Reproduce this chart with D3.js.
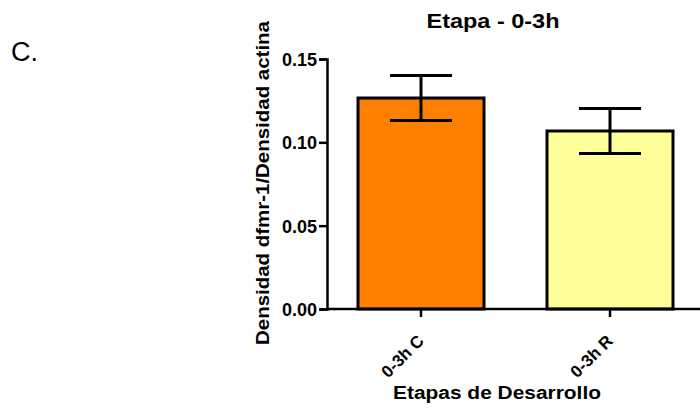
<!DOCTYPE html>
<html>
<head>
<meta charset="utf-8">
<script src="https://cdn.jsdelivr.net/npm/d3@7"></script>
<style>
  body { margin: 0; background: #fff; }
  text { font-family: "Liberation Sans", Arial, sans-serif; }
</style>
</head>
<body>
<div id="chart"></div>
<script>
// Data
var categories = ["0-3h C", "0-3h R"];
var means = [0.1266, 0.1068];
var sems = [0.0135, 0.0135];
var colors = ["#FF8000", "#FFFF99"];
var yTicks = [0.00, 0.05, 0.10, 0.15];

var width = 700, height = 408;
var margin = {top: 59, right: 0, bottom: 99, left: 327};

var svg = d3.select("#chart").append("svg")
  .attr("width", width)
  .attr("height", height);

var data = categories.map(function(c, i) {
  return {name: c, mean: means[i], sem: sems[i], color: colors[i]};
});

var x = d3.scaleBand()
  .domain(categories)
  .range([margin.left, 704])
  .paddingInner(1 / 3)
  .paddingOuter(0.164);

var y = d3.scaleLinear()
  .domain([0, 0.15])
  .range([height - margin.bottom, margin.top]);

// Bars
svg.selectAll(".bar")
  .data(data)
  .enter().append("rect")
  .attr("class", "bar")
  .attr("x", function(d) { return x(d.name); })
  .attr("y", function(d) { return y(d.mean); })
  .attr("width", x.bandwidth())
  .attr("height", function(d) { return y(0) - y(d.mean); })
  .style("fill", function(d) { return d.color; })
  .style("stroke", "#000")
  .style("stroke-width", 3);

// Error bars
var err = svg.selectAll(".err")
  .data(data)
  .enter().append("g")
  .attr("class", "err")
  .style("stroke", "#000")
  .style("stroke-width", 3);

err.append("line")
  .attr("x1", function(d) { return x(d.name) + x.bandwidth() / 2; })
  .attr("x2", function(d) { return x(d.name) + x.bandwidth() / 2; })
  .attr("y1", function(d) { return y(d.mean + d.sem); })
  .attr("y2", function(d) { return y(d.mean - d.sem); });

[1, -1].forEach(function(s) {
  err.append("line")
    .attr("x1", function(d) { return x(d.name) + x.bandwidth() / 2 - 31; })
    .attr("x2", function(d) { return x(d.name) + x.bandwidth() / 2 + 31; })
    .attr("y1", function(d) { return y(d.mean + s * d.sem); })
    .attr("y2", function(d) { return y(d.mean + s * d.sem); });
});

// Y axis
var yAxis = svg.append("g")
  .attr("transform", "translate(" + margin.left + ",0)")
  .call(d3.axisLeft(y).tickValues(yTicks).tickFormat(d3.format(".2f")).tickSizeOuter(0).tickSize(8));

// X axis
var xAxis = svg.append("g")
  .attr("transform", "translate(0," + y(0) + ")")
  .call(d3.axisBottom(x).tickSizeOuter(0).tickSize(8));

xAxis.select(".domain").attr("d", "M" + margin.left + ",0H700");

[yAxis, xAxis].forEach(function(a) {
  a.selectAll("path, line").style("stroke", "#000").style("stroke-width", 2.5);
  a.selectAll("text")
    .style("font-family", "'Liberation Sans', Arial, sans-serif")
    .style("font-weight", "bold")
    .style("font-size", "18px")
    .style("fill", "#000");
});

yAxis.selectAll("text").attr("x", -10).attr("dy", "0.36em");

xAxis.selectAll("text")
  .style("text-anchor", "end")
  .style("font-size", "17px")
  .attr("dy", 0)
  .attr("y", 0)
  .attr("x", 0)
  .attr("transform", "translate(4,33) rotate(-45)");

// Title
svg.append("text")
  .attr("x", 493)
  .attr("y", 28)
  .attr("text-anchor", "middle")
  .attr("textLength", 133)
  .attr("lengthAdjust", "spacingAndGlyphs")
  .style("font-weight", "bold")
  .style("font-size", "19.5px")
  .text("Etapa - 0-3h");

// Y axis label
svg.append("text")
  .attr("transform", "translate(269,183) rotate(-90)")
  .attr("text-anchor", "middle")
  .attr("textLength", 324)
  .attr("lengthAdjust", "spacingAndGlyphs")
  .style("font-weight", "bold")
  .style("font-size", "17.5px")
  .text("Densidad dfmr-1/Densidad actina");

// X axis label
svg.append("text")
  .attr("x", 497)
  .attr("y", 399)
  .attr("text-anchor", "middle")
  .attr("textLength", 208)
  .attr("lengthAdjust", "spacingAndGlyphs")
  .style("font-weight", "bold")
  .style("font-size", "18px")
  .text("Etapas de Desarrollo");

// Panel letter
svg.append("text")
  .attr("x", 11)
  .attr("y", 61)
  .style("font-size", "27px")
  .text("C.");
</script>
</body>
</html>
